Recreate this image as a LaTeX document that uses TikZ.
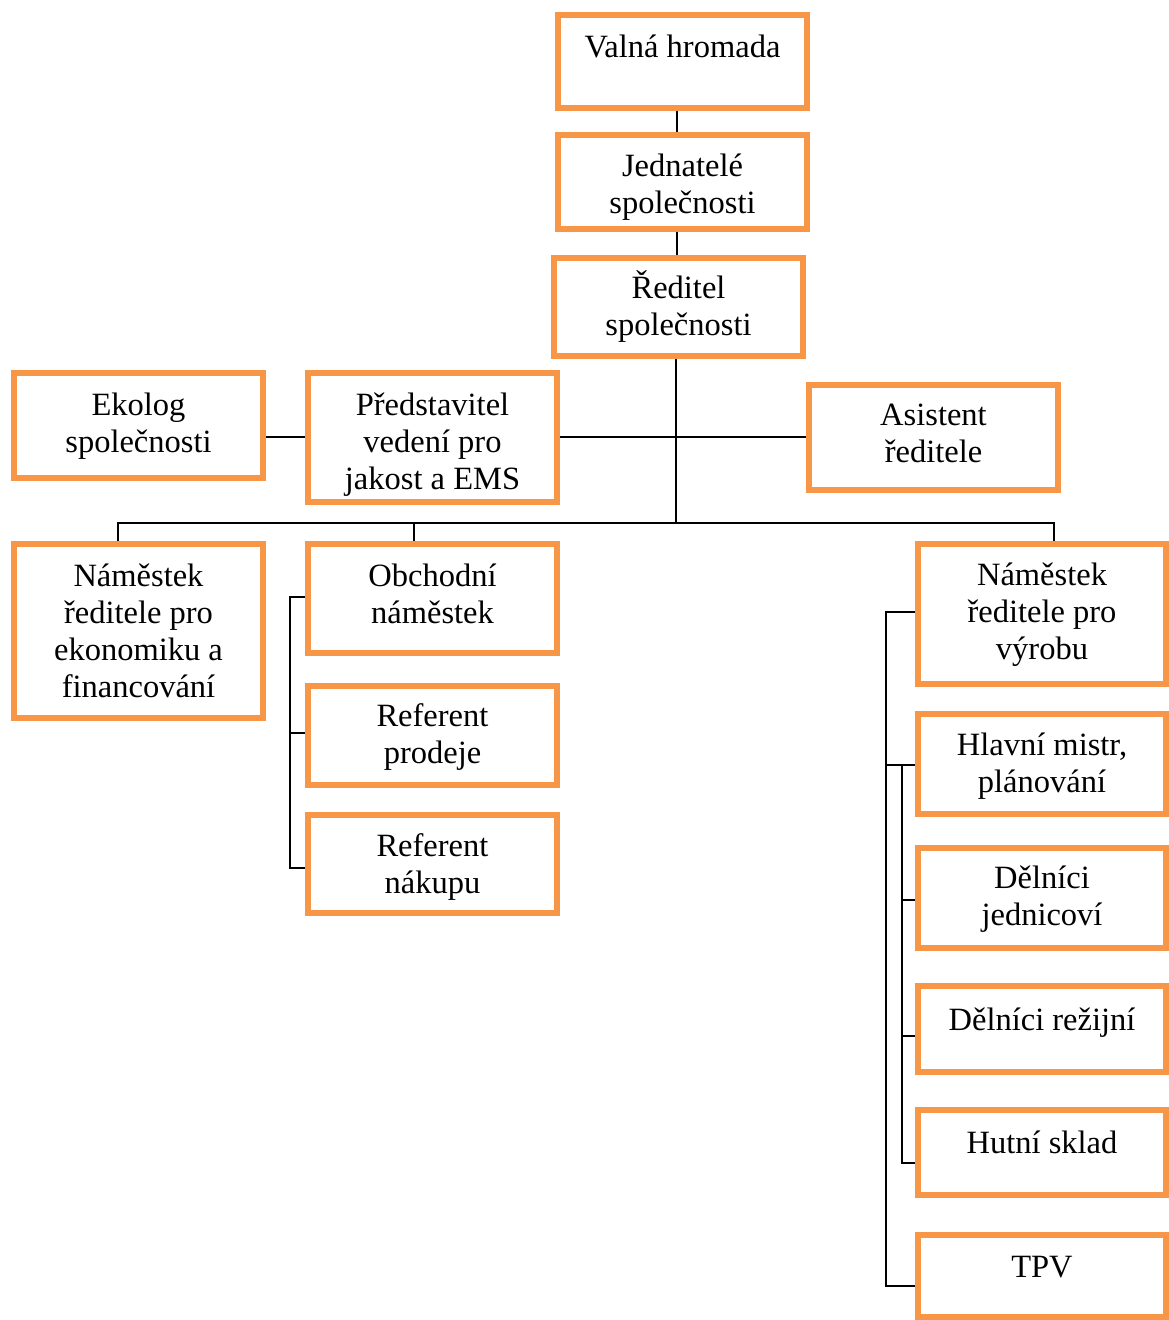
\documentclass[tikz,border=0pt]{standalone}
\usepackage{fontspec}
\setmainfont{Liberation Serif}
\begin{document}
\begin{tikzpicture}[x=1pt,y=-1pt,
  obox/.style={draw=boxorange, line width=6pt, rectangle, inner sep=0pt, fill=white},
  lbl/.style={align=center, inner sep=0pt, anchor=base, font=\fontsize{32.5}{37}\selectfont},
  conn/.style={line width=2pt, black}]
\definecolor{boxorange}{RGB}{247,150,70}
\useasboundingbox[fill=white] (0,0) rectangle (1169,1320);
% box: name, left, top, right, bottom (outer edges)
\newcommand\obox[5]{%
  \node[obox, minimum width={(#4)-(#2)-6}, minimum height={(#5)-(#3)-6}]
    (#1) at ({((#2)+(#4))/2},{((#3)+(#5))/2}) {};}
% label: name, centre x, first baseline, number of lines, text
% (the base anchor of a multi-line node sits on its last line)
\newcommand\olbl[5]{\node[lbl] (#1) at (#2,{(#3)+37*((#4)-1)}) {#5};}

\obox{valna}{555}{12}{810}{111}
\obox{jedn}{555}{132}{810}{232}
\obox{red}{551}{255}{806}{359}
\obox{ekolog}{11}{370}{266}{481}
\obox{pred}{305}{370}{560}{505}
\obox{asist}{806}{382}{1061}{493}
\obox{namek}{11}{541}{266}{721}
\obox{obch}{305}{541}{560}{656}
\obox{refp}{305}{683}{560}{788}
\obox{refn}{305}{812}{560}{916}
\obox{namv}{915}{541}{1169}{687}
\obox{hlm}{915}{711}{1169}{817}
\obox{dj}{915}{845}{1169}{951}
\obox{dr}{915}{983}{1169}{1075}
\obox{hs}{915}{1107}{1169}{1198}
\obox{tpv}{915}{1232}{1169}{1320}

\olbl{valnat}{682.5}{57}{1}{Valná hromada}
\olbl{jednt}{682.5}{176}{2}{Jednatelé\\společnosti}
\olbl{redt}{678.5}{298}{2}{Ředitel\\společnosti}
\olbl{ekologt}{138.5}{415}{2}{Ekolog\\společnosti}
\olbl{predt}{432.5}{415}{3}{Představitel\\vedení pro\\jakost a EMS}
\olbl{asistt}{933.5}{425}{2}{Asistent\\ředitele}
\olbl{namekt}{138.5}{586}{4}{Náměstek\\ředitele pro\\ekonomiku a\\financování}
\olbl{obcht}{432.5}{586}{2}{Obchodní\\náměstek}
\olbl{refpt}{432.5}{726}{2}{Referent\\prodeje}
\olbl{refnt}{432.5}{856}{2}{Referent\\nákupu}
\olbl{namvt}{1042}{585}{3}{Náměstek\\ředitele pro\\výrobu}
\olbl{hlmt}{1042}{755}{2}{Hlavní mistr,\\plánování}
\olbl{djt}{1042}{888}{2}{Dělníci\\jednicoví}
\olbl{drt}{1042}{1030}{1}{Dělníci režijní}
\olbl{hst}{1042}{1153}{1}{Hutní sklad}
\olbl{tpvt}{1042}{1277}{1}{TPV}

% top chain
\coordinate (tx) at (677,0);
\draw[conn] (valna.south -| tx) -- (jedn.north -| tx);
\draw[conn] (jedn.south -| tx) -- (red.north -| tx);

% trunk, staff row and bus
\coordinate (bus) at (676,523);
\coordinate (st) at (676,437);
\coordinate (d1) at (118,523);
\coordinate (d2) at (414,523);
\coordinate (d3) at (1054,523);
\draw[conn] (red.south -| bus) -- (bus);
\draw[conn] (pred.east |- st) -- (asist.west |- st);
\draw[conn] (ekolog.east |- st) -- (pred.west |- st);
\draw[conn] (namek.north -| d1) -- (d1) -- (d3) -- (namv.north -| d3);
\draw[conn] (d2) -- (obch.north -| d2);

% sales bracket
\coordinate (lb1) at (290,597);
\coordinate (lb2) at (290,733);
\coordinate (lb3) at (290,868);
\draw[conn] (obch.west |- lb1) -- (lb1) -- (lb3) -- (refn.west |- lb3);
\draw[conn] (lb2) -- (refp.west |- lb2);

% production brackets
\coordinate (ro1) at (886,612);
\coordinate (ro2) at (886,765);
\coordinate (ro3) at (886,1286);
\coordinate (ri1) at (902,765);
\coordinate (ri2) at (902,900);
\coordinate (ri3) at (902,1036);
\coordinate (ri4) at (902,1163);
\draw[conn] (namv.west |- ro1) -- (ro1) -- (ro3) -- (tpv.west |- ro3);
\draw[conn] (ro2) -- (hlm.west |- ro2);
\draw[conn] (ri1) -- (ri4) -- (hs.west |- ri4);
\draw[conn] (ri2) -- (dj.west |- ri2);
\draw[conn] (ri3) -- (dr.west |- ri3);
\end{tikzpicture}
\end{document}
